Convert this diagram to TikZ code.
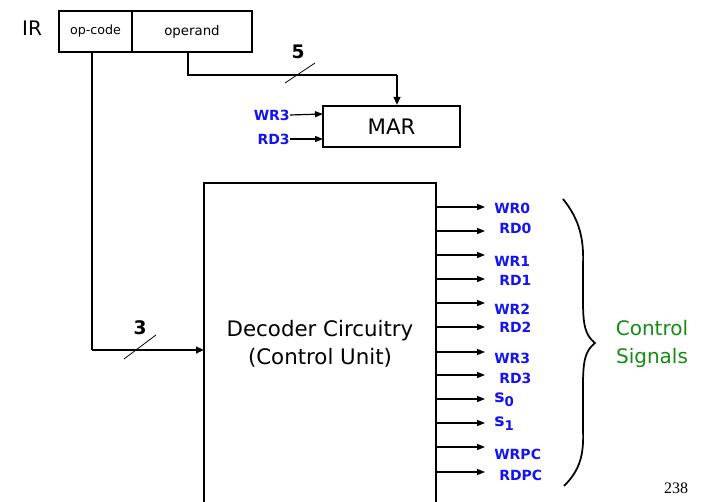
\documentclass[tikz,border=0pt]{standalone}
\usepackage{fontspec}
\setmainfont{DejaVu Sans}
\newfontfamily\pgnumfont{Liberation Serif}
\usetikzlibrary{arrows.meta}
\definecolor{sigblue}{RGB}{20,20,235}
\definecolor{siggreen}{RGB}{20,140,20}
\newcommand{\sname}[1]{{\fontsize{13}{14}\selectfont s}\raisebox{-3pt}{\fontsize{10}{11}\selectfont #1}}
\begin{document}
\begin{tikzpicture}[x=0.75pt,y=-0.75pt,
  box/.style={draw,line width=1.6pt,inner sep=0pt},
  wire/.style={line width=1.4pt},
  arr/.style={wire,-{Triangle[length=6pt,width=5pt]}},
  sarr/.style={line width=0.9pt,-{Triangle[length=6pt,width=4.5pt]}},
  sig/.style={text=sigblue,font=\bfseries\fontsize{10.5}{12}\selectfont,anchor=west,inner sep=0pt},
  sigr/.style={text=sigblue,font=\bfseries\fontsize{10.5}{12}\selectfont,anchor=east,inner sep=0pt},
  tick/.style={line width=0.6pt}]
\useasboundingbox (0,0) rectangle (701,502);
% IR
\node[font=\fontsize{15}{17}\selectfont] (ir) at (32,28) {IR};
\node[box,minimum width=55pt,minimum height=30.75pt,font=\fontsize{9.5}{10}\selectfont] (op) at (95.5,31.5) {op-code};
\node[box,minimum width=90pt,minimum height=30.75pt,font=\fontsize{10}{11}\selectfont] (opd) at (192,31.5) {operand};
% MAR
\node[box,minimum width=102.75pt,minimum height=30.75pt,font=\fontsize{16}{18}\selectfont] (mar) at (391.5,126.5) {MAR};
\coordinate (wr3in) at (323,114);
\coordinate (rd3in) at (323,139);
\node[sigr] (wr3l) at (290,115) {WR3};
\node[sigr] (rd3l) at (290,139) {RD3};
\draw[sarr] (wr3l.east) -- (wr3in);
\draw[sarr] (rd3l.east) -- (rd3in);
% operand to MAR
\coordinate (c1) at (188,75);
\coordinate (c2) at (397,75);
\draw[wire] (188,52) -- (c1) -- (c2);
\draw[arr] (c2) -- (397,105);
\draw[tick] (285,83) -- (315,63);
\node[font=\bfseries\fontsize{14}{15}\selectfont] (five) at (298,52) {5};
% Decoder
\draw[box] (204,183) rectangle (436,510);
\node[font=\fontsize{16}{21}\selectfont,align=center] (dec) at (320,344) {Decoder Circuitry\\(Control Unit)};
\coordinate (d1) at (92,350);
\draw[wire] (92,52) -- (d1);
\draw[arr] (d1) -- (204,350);
\draw[tick] (124,359) -- (156,335);
\node[font=\bfseries\fontsize{14}{15}\selectfont] (three) at (140,328) {3};
% outputs
\foreach \y/\lab/\dx/\dy in {207/WR0/0/1, 231/RD0/5/-3, 255/WR1/0/6, 279/RD1/5/1, 303/WR2/0/6, 327/RD2/5/0, 352/WR3/0/6, 375/RD3/5/3, 399/{\sname{0}}/0/1, 423/{\sname{1}}/0/1, 447/WRPC/0/7, 472/RDPC/5/3}{
  \draw[sarr] (436,\y) -- (485,\y);
  \node[sig] at (494+\dx,\y+\dy) {\lab};
}
% brace
\draw[line width=1.3pt] (563,199) .. controls (580,220) and (584,240) .. (583,265)
  -- (583,300) .. controls (583,325) and (585,335) .. (595,343)
  .. controls (585,351) and (583,361) .. (583,386)
  -- (583,430) .. controls (584,455) and (580,470) .. (564,486);
\node[text=siggreen,font=\fontsize{15}{21}\selectfont,align=center] (cs) at (652,344) {Control\\Signals};
\node[font=\pgnumfont\fontsize{12}{13}\selectfont] (pg) at (676,488) {238};
\end{tikzpicture}
\end{document}
